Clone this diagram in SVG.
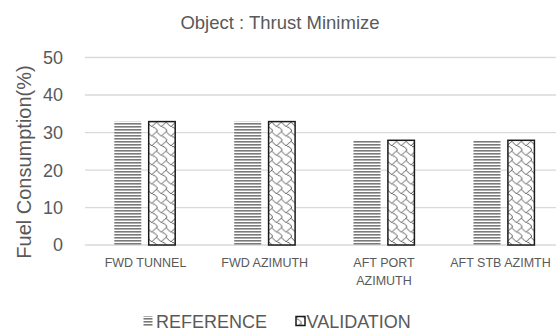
<svg xmlns="http://www.w3.org/2000/svg" width="556" height="333" viewBox="0 0 556 333">
  <defs>
    <pattern id="horz" patternUnits="userSpaceOnUse" width="8" height="3">
      <rect width="8" height="3" fill="#ffffff"/>
      <rect y="0" width="8" height="1.6" fill="#7a7a7a"/>
    </pattern>
    <pattern id="shingle" patternUnits="userSpaceOnUse" width="8" height="8" patternTransform="translate(148 122) scale(1.2)">
      <rect width="8" height="8" fill="#ffffff"/>
      <path d="M-0.5,0.5 L2.5,3.5 L3.5,3.5 L6.5,0.5 L7.5,0.5 L8.5,1.5 M3.5,3.5 L4.5,4.5 L5.5,4.5 L7.5,6.5 L7.5,8.5" fill="none" stroke="#333333" stroke-width="0.7"/>
    </pattern>
    <style>
      .t { font-family: "Liberation Sans", Arial, sans-serif; fill: #595959; }
      .grid { stroke: #d9d9d9; stroke-width: 1.3; }
      .ref { fill: url(#horz); }
      .val { fill: url(#shingle); stroke: #1a1a1a; stroke-width: 1.5; }
      .cat { font-size: 12.5px; text-anchor: middle; }
      .tick { font-size: 18px; text-anchor: end; }
    </style>
  </defs>
  <rect width="556" height="333" fill="#ffffff"/>

  <g id="title"><text class="t" x="280" y="29" font-size="18.5" text-anchor="middle">Object : Thrust Minimize</text></g>

  <g id="grid">
    <line class="grid" x1="85" y1="57.5" x2="556" y2="57.5"/>
    <line class="grid" x1="85" y1="95" x2="556" y2="95"/>
    <line class="grid" x1="85" y1="132.6" x2="556" y2="132.6"/>
    <line class="grid" x1="85" y1="170.2" x2="556" y2="170.2"/>
    <line class="grid" x1="85" y1="207.6" x2="556" y2="207.6"/>
    <line class="grid" x1="85" y1="245" x2="556" y2="245"/>
  </g>

  <g id="y-axis">
    <text class="t tick" x="63" y="63.8">50</text>
    <text class="t tick" x="63" y="101.3">40</text>
    <text class="t tick" x="63" y="138.9">30</text>
    <text class="t tick" x="63" y="176.5">20</text>
    <text class="t tick" x="63" y="213.9">10</text>
    <text class="t tick" x="63" y="251.3">0</text>
    <text class="t" transform="translate(31 162) rotate(-90)" font-size="20" text-anchor="middle">Fuel Consumption(%)</text>
  </g>

  <g id="fwd-tunnel">
    <rect class="ref" x="114.3" y="121.6" width="27" height="123.4"/>
    <rect class="val" x="148.7" y="121.6" width="26.5" height="123.4"/>
    <text class="t cat" x="145.5" y="267">FWD TUNNEL</text>
  </g>
  <g id="fwd-azimuth">
    <rect class="ref" x="234.2" y="121.6" width="27" height="123.4"/>
    <rect class="val" x="268.6" y="121.6" width="26.5" height="123.4"/>
    <text class="t cat" x="264.7" y="267">FWD AZIMUTH</text>
  </g>
  <g id="aft-port-azimuth">
    <rect class="ref" x="353.5" y="140.3" width="27" height="104.7"/>
    <rect class="val" x="387.9" y="140.3" width="26.5" height="104.7"/>
    <text class="t cat" x="384" y="267">AFT PORT</text>
    <text class="t cat" x="384" y="285">AZIMUTH</text>
  </g>
  <g id="aft-stb-azimth">
    <rect class="ref" x="473.5" y="140.3" width="27" height="104.7"/>
    <rect class="val" x="507.9" y="140.3" width="26.5" height="104.7"/>
    <text class="t cat" x="500.5" y="267">AFT STB AZIMTH</text>
  </g>

  <g id="legend">
    <rect class="ref" x="143.5" y="316" width="9" height="10"/>
    <text class="t" x="156" y="327.5" font-size="18">REFERENCE</text>
    <rect class="val" x="296" y="316.5" width="9" height="9"/>
    <text class="t" x="306.5" y="327.5" font-size="18">VALIDATION</text>
  </g>
</svg>
